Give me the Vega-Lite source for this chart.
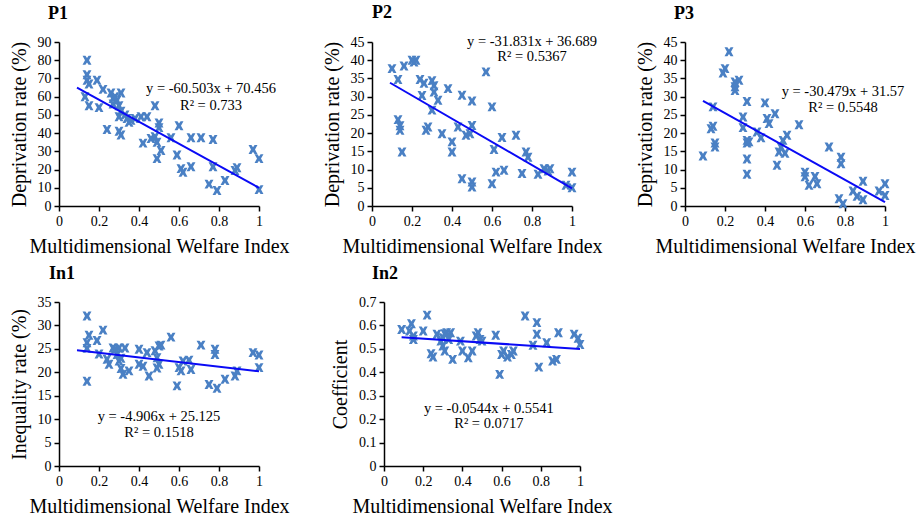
{
  "$schema": "https://vega.github.io/schema/vega-lite/v6.json",
  "padding": {"left": 8, "top": 3, "right": 5, "bottom": 5},
  "background": "white",
  "datasets": {
    "pts": [
      {"p":"P1","x":0.14,"y":80},{"p":"P1","x":0.14,"y":72},{"p":"P1","x":0.14,"y":69},{"p":"P1","x":0.15,"y":67},{"p":"P1","x":0.13,"y":60},{"p":"P1","x":0.15,"y":55},{"p":"P1","x":0.19,"y":69},{"p":"P1","x":0.2,"y":54},{"p":"P1","x":0.22,"y":64},{"p":"P1","x":0.24,"y":42},{"p":"P1","x":0.26,"y":62},{"p":"P1","x":0.27,"y":59},{"p":"P1","x":0.27,"y":56},{"p":"P1","x":0.28,"y":60},{"p":"P1","x":0.29,"y":58},{"p":"P1","x":0.3,"y":55},{"p":"P1","x":0.31,"y":62},{"p":"P1","x":0.31,"y":52},{"p":"P1","x":0.3,"y":49},{"p":"P1","x":0.3,"y":41},{"p":"P1","x":0.31,"y":39},{"p":"P1","x":0.33,"y":50},{"p":"P1","x":0.34,"y":48},{"p":"P1","x":0.35,"y":46},{"p":"P1","x":0.36,"y":47},{"p":"P1","x":0.38,"y":48},{"p":"P1","x":0.41,"y":49},{"p":"P1","x":0.44,"y":49},{"p":"P1","x":0.42,"y":34.5},{"p":"P1","x":0.46,"y":37},{"p":"P1","x":0.48,"y":38},{"p":"P1","x":0.48,"y":55},{"p":"P1","x":0.5,"y":45.5},{"p":"P1","x":0.5,"y":43},{"p":"P1","x":0.49,"y":35},{"p":"P1","x":0.51,"y":30.5},{"p":"P1","x":0.49,"y":26},{"p":"P1","x":0.56,"y":37.5},{"p":"P1","x":0.6,"y":44},{"p":"P1","x":0.59,"y":28},{"p":"P1","x":0.61,"y":20.5},{"p":"P1","x":0.62,"y":18.5},{"p":"P1","x":0.66,"y":37.5},{"p":"P1","x":0.66,"y":21.5},{"p":"P1","x":0.71,"y":37.5},{"p":"P1","x":0.77,"y":36.5},{"p":"P1","x":0.77,"y":21.5},{"p":"P1","x":0.75,"y":12},{"p":"P1","x":0.79,"y":8.5},{"p":"P1","x":0.83,"y":14},{"p":"P1","x":0.88,"y":19.5},{"p":"P1","x":0.89,"y":21},{"p":"P1","x":0.97,"y":31},{"p":"P1","x":1.0,"y":26},{"p":"P1","x":1.0,"y":9},

      {"p":"P2","x":0.1,"y":37.7},{"p":"P2","x":0.13,"y":34.7},{"p":"P2","x":0.16,"y":38.4},{"p":"P2","x":0.2,"y":40},{"p":"P2","x":0.22,"y":40},{"p":"P2","x":0.21,"y":39.5},{"p":"P2","x":0.13,"y":23.7},{"p":"P2","x":0.14,"y":22},{"p":"P2","x":0.14,"y":20.8},{"p":"P2","x":0.15,"y":14.8},{"p":"P2","x":0.24,"y":34.7},{"p":"P2","x":0.26,"y":33.7},{"p":"P2","x":0.25,"y":30.3},{"p":"P2","x":0.28,"y":21.7},{"p":"P2","x":0.27,"y":20.8},{"p":"P2","x":0.3,"y":34.4},{"p":"P2","x":0.31,"y":33},{"p":"P2","x":0.31,"y":31.3},{"p":"P2","x":0.33,"y":29},{"p":"P2","x":0.3,"y":26.3},{"p":"P2","x":0.38,"y":32.2},{"p":"P2","x":0.35,"y":19.8},{"p":"P2","x":0.4,"y":17.6},{"p":"P2","x":0.4,"y":14.8},{"p":"P2","x":0.45,"y":30.4},{"p":"P2","x":0.5,"y":28.8},{"p":"P2","x":0.43,"y":21.7},{"p":"P2","x":0.47,"y":19.4},{"p":"P2","x":0.49,"y":19.8},{"p":"P2","x":0.5,"y":22.1},{"p":"P2","x":0.45,"y":7.5},{"p":"P2","x":0.5,"y":6.6},{"p":"P2","x":0.5,"y":5.2},{"p":"P2","x":0.57,"y":36.8},{"p":"P2","x":0.6,"y":27.2},{"p":"P2","x":0.61,"y":15.5},{"p":"P2","x":0.6,"y":6.1},{"p":"P2","x":0.62,"y":9.3},{"p":"P2","x":0.65,"y":18.8},{"p":"P2","x":0.66,"y":9.8},{"p":"P2","x":0.72,"y":19.4},{"p":"P2","x":0.77,"y":14.8},{"p":"P2","x":0.78,"y":13.4},{"p":"P2","x":0.75,"y":8.9},{"p":"P2","x":0.83,"y":8.7},{"p":"P2","x":0.86,"y":10.2},{"p":"P2","x":0.88,"y":9.6},{"p":"P2","x":0.89,"y":10.2},{"p":"P2","x":0.97,"y":5.7},{"p":"P2","x":1.0,"y":9.3},{"p":"P2","x":1.0,"y":5},

      {"p":"P3","x":0.09,"y":13.7},{"p":"P3","x":0.14,"y":27.2},{"p":"P3","x":0.13,"y":21.2},{"p":"P3","x":0.14,"y":21.9},{"p":"P3","x":0.15,"y":17.3},{"p":"P3","x":0.15,"y":16.2},{"p":"P3","x":0.2,"y":37.7},{"p":"P3","x":0.19,"y":36.5},{"p":"P3","x":0.22,"y":42.3},{"p":"P3","x":0.25,"y":34},{"p":"P3","x":0.25,"y":32.7},{"p":"P3","x":0.25,"y":31.7},{"p":"P3","x":0.27,"y":34.5},{"p":"P3","x":0.29,"y":24.4},{"p":"P3","x":0.29,"y":21.5},{"p":"P3","x":0.31,"y":28.7},{"p":"P3","x":0.31,"y":18},{"p":"P3","x":0.31,"y":17.3},{"p":"P3","x":0.32,"y":17.6},{"p":"P3","x":0.31,"y":12.9},{"p":"P3","x":0.31,"y":8.7},{"p":"P3","x":0.36,"y":20.3},{"p":"P3","x":0.38,"y":18.7},{"p":"P3","x":0.4,"y":28.3},{"p":"P3","x":0.41,"y":24},{"p":"P3","x":0.42,"y":22.6},{"p":"P3","x":0.45,"y":25.3},{"p":"P3","x":0.46,"y":11.2},{"p":"P3","x":0.47,"y":14.8},{"p":"P3","x":0.48,"y":16.2},{"p":"P3","x":0.49,"y":18},{"p":"P3","x":0.51,"y":19.4},{"p":"P3","x":0.5,"y":14.5},{"p":"P3","x":0.57,"y":22.3},{"p":"P3","x":0.6,"y":9.3},{"p":"P3","x":0.6,"y":8},{"p":"P3","x":0.62,"y":5.7},{"p":"P3","x":0.65,"y":8.1},{"p":"P3","x":0.66,"y":6.1},{"p":"P3","x":0.72,"y":16.2},{"p":"P3","x":0.78,"y":13.4},{"p":"P3","x":0.78,"y":11.6},{"p":"P3","x":0.77,"y":2},{"p":"P3","x":0.79,"y":0.6},{"p":"P3","x":0.84,"y":4.1},{"p":"P3","x":0.86,"y":2.7},{"p":"P3","x":0.89,"y":6.8},{"p":"P3","x":0.89,"y":1.7},{"p":"P3","x":0.97,"y":4.1},{"p":"P3","x":1.0,"y":6.1},{"p":"P3","x":1.0,"y":2.9},

      {"p":"In1","x":0.14,"y":32},{"p":"In1","x":0.15,"y":27.9},{"p":"In1","x":0.14,"y":26.3},{"p":"In1","x":0.14,"y":25.1},{"p":"In1","x":0.14,"y":18.1},{"p":"In1","x":0.19,"y":26.8},{"p":"In1","x":0.22,"y":29},{"p":"In1","x":0.2,"y":23.9},{"p":"In1","x":0.24,"y":22.8},{"p":"In1","x":0.25,"y":21.7},{"p":"In1","x":0.27,"y":25.2},{"p":"In1","x":0.28,"y":24.9},{"p":"In1","x":0.29,"y":23.8},{"p":"In1","x":0.3,"y":25.2},{"p":"In1","x":0.3,"y":22.4},{"p":"In1","x":0.31,"y":20.8},{"p":"In1","x":0.32,"y":19.6},{"p":"In1","x":0.33,"y":25.2},{"p":"In1","x":0.31,"y":23},{"p":"In1","x":0.35,"y":20.3},{"p":"In1","x":0.4,"y":24.9},{"p":"In1","x":0.4,"y":21.7},{"p":"In1","x":0.42,"y":21.3},{"p":"In1","x":0.44,"y":24.2},{"p":"In1","x":0.45,"y":19.2},{"p":"In1","x":0.48,"y":24.6},{"p":"In1","x":0.49,"y":23.1},{"p":"In1","x":0.5,"y":21.7},{"p":"In1","x":0.5,"y":25.6},{"p":"In1","x":0.51,"y":25.8},{"p":"In1","x":0.49,"y":20.9},{"p":"In1","x":0.56,"y":27.5},{"p":"In1","x":0.59,"y":17.1},{"p":"In1","x":0.6,"y":21},{"p":"In1","x":0.61,"y":20.3},{"p":"In1","x":0.62,"y":22.4},{"p":"In1","x":0.65,"y":22.6},{"p":"In1","x":0.66,"y":20.6},{"p":"In1","x":0.71,"y":25.8},{"p":"In1","x":0.75,"y":17.4},{"p":"In1","x":0.78,"y":24.9},{"p":"In1","x":0.78,"y":23.8},{"p":"In1","x":0.79,"y":16.6},{"p":"In1","x":0.83,"y":18.5},{"p":"In1","x":0.88,"y":19.2},{"p":"In1","x":0.89,"y":20.3},{"p":"In1","x":0.97,"y":24.2},{"p":"In1","x":1.0,"y":23.7},{"p":"In1","x":1.0,"y":21},

      {"p":"In2","x":0.09,"y":0.583},{"p":"In2","x":0.14,"y":0.607},{"p":"In2","x":0.13,"y":0.576},{"p":"In2","x":0.15,"y":0.555},{"p":"In2","x":0.15,"y":0.54},{"p":"In2","x":0.2,"y":0.576},{"p":"In2","x":0.22,"y":0.644},{"p":"In2","x":0.24,"y":0.479},{"p":"In2","x":0.25,"y":0.465},{"p":"In2","x":0.27,"y":0.562},{"p":"In2","x":0.29,"y":0.533},{"p":"In2","x":0.3,"y":0.548},{"p":"In2","x":0.3,"y":0.512},{"p":"In2","x":0.31,"y":0.565},{"p":"In2","x":0.32,"y":0.569},{"p":"In2","x":0.34,"y":0.569},{"p":"In2","x":0.31,"y":0.491},{"p":"In2","x":0.33,"y":0.54},{"p":"In2","x":0.35,"y":0.455},{"p":"In2","x":0.39,"y":0.533},{"p":"In2","x":0.4,"y":0.491},{"p":"In2","x":0.43,"y":0.462},{"p":"In2","x":0.45,"y":0.491},{"p":"In2","x":0.47,"y":0.555},{"p":"In2","x":0.48,"y":0.569},{"p":"In2","x":0.49,"y":0.54},{"p":"In2","x":0.5,"y":0.533},{"p":"In2","x":0.57,"y":0.558},{"p":"In2","x":0.59,"y":0.391},{"p":"In2","x":0.6,"y":0.476},{"p":"In2","x":0.61,"y":0.491},{"p":"In2","x":0.63,"y":0.465},{"p":"In2","x":0.65,"y":0.476},{"p":"In2","x":0.66,"y":0.491},{"p":"In2","x":0.72,"y":0.64},{"p":"In2","x":0.78,"y":0.612},{"p":"In2","x":0.78,"y":0.562},{"p":"In2","x":0.76,"y":0.515},{"p":"In2","x":0.79,"y":0.422},{"p":"In2","x":0.83,"y":0.526},{"p":"In2","x":0.86,"y":0.448},{"p":"In2","x":0.88,"y":0.455},{"p":"In2","x":0.89,"y":0.569},{"p":"In2","x":0.97,"y":0.562},{"p":"In2","x":0.99,"y":0.545},{"p":"In2","x":1.0,"y":0.519}
    ],
    "lines": [
      {"p":"P1","x":0.09,"y":65.01},{"p":"P1","x":1.0,"y":9.95},
      {"p":"P2","x":0.09,"y":33.82},{"p":"P2","x":1.0,"y":4.86},
      {"p":"P3","x":0.09,"y":28.83},{"p":"P3","x":1.0,"y":1.09},
      {"p":"In1","x":0.09,"y":24.68},{"p":"In1","x":1.0,"y":20.22},
      {"p":"In2","x":0.09,"y":0.5492},{"p":"In2","x":1.0,"y":0.4997}
    ],
    "txt": [
      {"p":"P1","x":0.76,"y":64.2,"t":"y = -60.503x + 70.456"},{"p":"P1","x":0.76,"y":54.9,"t":"R² = 0.733"},
      {"p":"P2","x":0.8,"y":45.1,"t":"y = -31.831x + 36.689"},{"p":"P2","x":0.8,"y":40.8,"t":"R² = 0.5367"},
      {"p":"P3","x":0.79,"y":31.2,"t":"y = -30.479x + 31.57"},{"p":"P3","x":0.79,"y":27,"t":"R² = 0.5548"},
      {"p":"In1","x":0.5,"y":10.5,"t":"y = -4.906x + 25.125"},{"p":"In1","x":0.5,"y":7.0,"t":"R² = 0.1518"},
      {"p":"In2","x":0.535,"y":0.243,"t":"y = -0.0544x + 0.5541"},{"p":"In2","x":0.535,"y":0.179,"t":"R² = 0.0717"}
    ]
  },
  "vconcat": [
    {
      "hconcat": [
        {
          "width": 200, "height": 164,
          "title": {"text": "P1", "dx": -11},
          "encoding": {
            "x": {"field": "x", "type": "quantitative", "scale": {"domain": [0, 1], "nice": false}, "axis": {"values": [0, 0.2, 0.4, 0.6, 0.8, 1], "format": "~g", "title": "Multidimensional Welfare Index"}},
            "y": {"field": "y", "type": "quantitative", "scale": {"domain": [0, 90], "nice": false}, "axis": {"values": [0, 10, 20, 30, 40, 50, 60, 70, 80, 90], "title": "Deprivation rate (%)"}}
          },
          "layer": [
            {"data": {"name": "pts"}, "transform": [{"filter": "datum.p == 'P1'"}], "mark": {"type": "point", "shape": "M-1,-1L-0.35,-1L0,-0.5L0.35,-1L1,-1L0.45,0L1,1L0.35,1L0,0.5L-0.35,1L-1,1L-0.45,0Z", "filled": true, "size": 80, "color": "#4a80c4", "opacity": 1}},
            {"data": {"name": "lines"}, "transform": [{"filter": "datum.p == 'P1'"}], "mark": {"type": "line", "color": "#0a0af5", "strokeWidth": 2}},
            {"data": {"name": "txt"}, "transform": [{"filter": "datum.p == 'P1'"}], "mark": {"type": "text", "fontSize": 14.5, "font": "Liberation Serif", "color": "#000"}, "encoding": {"text": {"field": "t"}}}
          ]
        },
        {
          "width": 200, "height": 164,
          "title": {"text": "P2", "dx": 0},
          "encoding": {
            "x": {"field": "x", "type": "quantitative", "scale": {"domain": [0, 1], "nice": false}, "axis": {"values": [0, 0.2, 0.4, 0.6, 0.8, 1], "format": "~g", "title": "Multidimensional Welfare Index"}},
            "y": {"field": "y", "type": "quantitative", "scale": {"domain": [0, 45], "nice": false}, "axis": {"values": [0, 5, 10, 15, 20, 25, 30, 35, 40, 45], "title": "Deprivation rate (%)"}}
          },
          "layer": [
            {"data": {"name": "pts"}, "transform": [{"filter": "datum.p == 'P2'"}], "mark": {"type": "point", "shape": "M-1,-1L-0.35,-1L0,-0.5L0.35,-1L1,-1L0.45,0L1,1L0.35,1L0,0.5L-0.35,1L-1,1L-0.45,0Z", "filled": true, "size": 80, "color": "#4a80c4", "opacity": 1}},
            {"data": {"name": "lines"}, "transform": [{"filter": "datum.p == 'P2'"}], "mark": {"type": "line", "color": "#0a0af5", "strokeWidth": 2}},
            {"data": {"name": "txt"}, "transform": [{"filter": "datum.p == 'P2'"}], "mark": {"type": "text", "fontSize": 14.5, "font": "Liberation Serif", "color": "#000"}, "encoding": {"text": {"field": "t"}}}
          ]
        },
        {
          "width": 200, "height": 164,
          "title": {"text": "P3", "dx": -11},
          "encoding": {
            "x": {"field": "x", "type": "quantitative", "scale": {"domain": [0, 1], "nice": false}, "axis": {"values": [0, 0.2, 0.4, 0.6, 0.8, 1], "format": "~g", "title": "Multidimensional Welfare Index"}},
            "y": {"field": "y", "type": "quantitative", "scale": {"domain": [0, 45], "nice": false}, "axis": {"values": [0, 5, 10, 15, 20, 25, 30, 35, 40, 45], "title": "Deprivation rate (%)"}}
          },
          "layer": [
            {"data": {"name": "pts"}, "transform": [{"filter": "datum.p == 'P3'"}], "mark": {"type": "point", "shape": "M-1,-1L-0.35,-1L0,-0.5L0.35,-1L1,-1L0.45,0L1,1L0.35,1L0,0.5L-0.35,1L-1,1L-0.45,0Z", "filled": true, "size": 80, "color": "#4a80c4", "opacity": 1}},
            {"data": {"name": "lines"}, "transform": [{"filter": "datum.p == 'P3'"}], "mark": {"type": "line", "color": "#0a0af5", "strokeWidth": 2}},
            {"data": {"name": "txt"}, "transform": [{"filter": "datum.p == 'P3'"}], "mark": {"type": "text", "fontSize": 14.5, "font": "Liberation Serif", "color": "#000"}, "encoding": {"text": {"field": "t"}}}
          ]
        }
      ],
      "bounds": "flush",
      "spacing": 113
    },
    {
      "hconcat": [
        {
          "width": 200, "height": 164,
          "title": {"text": "In1", "dx": -10},
          "encoding": {
            "x": {"field": "x", "type": "quantitative", "scale": {"domain": [0, 1], "nice": false}, "axis": {"values": [0, 0.2, 0.4, 0.6, 0.8, 1], "format": "~g", "title": "Multidimensional Welfare Index"}},
            "y": {"field": "y", "type": "quantitative", "scale": {"domain": [0, 35], "nice": false}, "axis": {"values": [0, 5, 10, 15, 20, 25, 30, 35], "title": "Inequality rate (%)"}}
          },
          "layer": [
            {"data": {"name": "pts"}, "transform": [{"filter": "datum.p == 'In1'"}], "mark": {"type": "point", "shape": "M-1,-1L-0.35,-1L0,-0.5L0.35,-1L1,-1L0.45,0L1,1L0.35,1L0,0.5L-0.35,1L-1,1L-0.45,0Z", "filled": true, "size": 80, "color": "#4a80c4", "opacity": 1}},
            {"data": {"name": "lines"}, "transform": [{"filter": "datum.p == 'In1'"}], "mark": {"type": "line", "color": "#0a0af5", "strokeWidth": 2}},
            {"data": {"name": "txt"}, "transform": [{"filter": "datum.p == 'In1'"}], "mark": {"type": "text", "fontSize": 14.5, "font": "Liberation Serif", "color": "#000"}, "encoding": {"text": {"field": "t"}}}
          ]
        },
        {
          "width": 196, "height": 164,
          "title": {"text": "In2", "dx": -12},
          "encoding": {
            "x": {"field": "x", "type": "quantitative", "scale": {"domain": [0, 1], "nice": false}, "axis": {"values": [0, 0.2, 0.4, 0.6, 0.8, 1], "format": "~g", "title": "Multidimensional Welfare Index"}},
            "y": {"field": "y", "type": "quantitative", "scale": {"domain": [0, 0.7], "nice": false}, "axis": {"values": [0, 0.1, 0.2, 0.3, 0.4, 0.5, 0.6, 0.7], "format": "~g", "title": "Coefficient"}}
          },
          "layer": [
            {"data": {"name": "pts"}, "transform": [{"filter": "datum.p == 'In2'"}], "mark": {"type": "point", "shape": "M-1,-1L-0.35,-1L0,-0.5L0.35,-1L1,-1L0.45,0L1,1L0.35,1L0,0.5L-0.35,1L-1,1L-0.45,0Z", "filled": true, "size": 80, "color": "#4a80c4", "opacity": 1}},
            {"data": {"name": "lines"}, "transform": [{"filter": "datum.p == 'In2'"}], "mark": {"type": "line", "color": "#0a0af5", "strokeWidth": 2}},
            {"data": {"name": "txt"}, "transform": [{"filter": "datum.p == 'In2'"}], "mark": {"type": "text", "fontSize": 14.5, "font": "Liberation Serif", "color": "#000"}, "encoding": {"text": {"field": "t"}}}
          ]
        }
      ],
      "bounds": "flush",
      "spacing": 125
    }
  ],
  "spacing": 9,
  "config": {
    "font": "Liberation Serif",
    "view": {"stroke": null},
    "axis": {
      "grid": false,
      "domainColor": "#000", "domainWidth": 1.5,
      "tickColor": "#000", "tickWidth": 1.5, "tickSize": 5,
      "labelColor": "#000", "labelFont": "Liberation Serif", "labelFontSize": 14, "labelFlush": false, "labelPadding": 3,
      "titleColor": "#000", "titleFont": "Liberation Serif", "titleFontSize": 20, "titleFontWeight": "normal", "titlePadding": 8
    },
    "title": {"anchor": "start", "frame": "group", "font": "Liberation Serif", "fontSize": 18, "fontWeight": "bold", "color": "#000", "offset": 12}
  }
}
